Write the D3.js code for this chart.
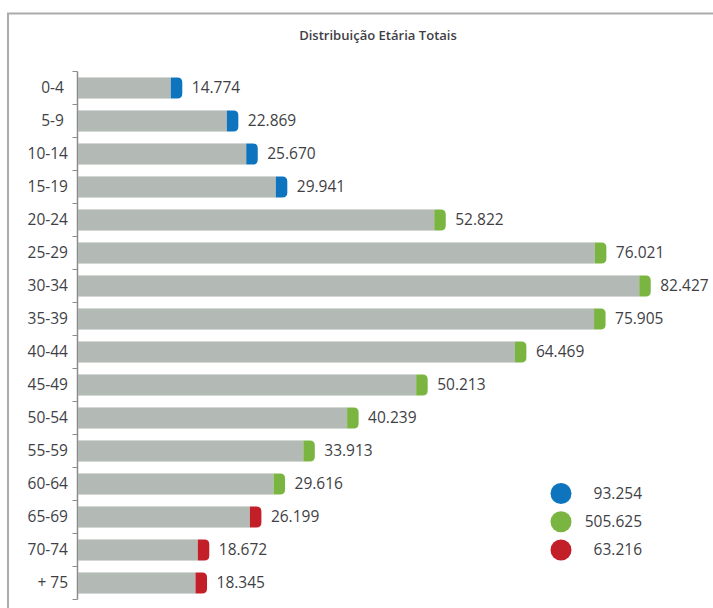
<!DOCTYPE html>
<html>
<head>
<meta charset="utf-8">
<script src="https://cdn.jsdelivr.net/npm/d3@7/dist/d3.min.js"></script>
<style>
  html, body { margin: 0; padding: 0; background: #ffffff; }
  svg { display: block; }
  text { font-family: "Open Sans", "Noto Sans", sans-serif; }
</style>
</head>
<body>
<svg id="chart" width="713" height="608"></svg>
<script>
// ---- data ----
const title = "Distribuição Etária Totais";
const categories = ["0-4 ", "5-9 ", "10-14", "15-19", "20-24", "25-29", "30-34", "35-39",
                    "40-44", "45-49", "50-54", "55-59", "60-64", "65-69", "70-74", "+ 75"];
const values = [14.774, 22.869, 25.670, 29.941, 52.822, 76.021, 82.427, 75.905,
                64.469, 50.213, 40.239, 33.913, 29.616, 26.199, 18.672, 18.345];
const groupOf = ["a", "a", "a", "a", "b", "b", "b", "b", "b", "b", "b", "b", "b", "c", "c", "c"];
const groups = ["a", "b", "c"];
const groupTotals = ["93.254", "505.625", "63.216"];
const groupColors = ["#0F74BE", "#7AB541", "#C21F28"];

const fmt = v => v.toFixed(3);

// ---- setup ----
const svg = d3.select("#chart");
const W = 713, H = 608;
const textColor = "#3f3f46";

// frame
svg.append("path")
  .attr("d", `M8,${H + 5} L8,13.5 L${W + 5},13.5`)
  .attr("fill", "none").attr("stroke", "#ababab").attr("stroke-width", 2);

// title
const t = svg.append("text")
  .attr("x", 378).attr("y", 40)
  .attr("text-anchor", "middle")
  .attr("font-weight", 600)
  .attr("font-size", 13)
  .attr("fill", textColor)
  .text(title);
const tw = t.node().getComputedTextLength();
t.attr("font-size", 13 * 158 / tw);

// scales
const y = d3.scaleBand().domain(categories).range([71.5, 599.5])
  .paddingInner(0.36).paddingOuter(0.18);
const x = d3.scaleLinear().domain([0, 90]).range([80, 80 + 6.924 * 90]);
const color = d3.scaleOrdinal().domain(groups).range(groupColors);

const axisX = 77.5;
const step = y.step();

// axis line + ticks at band boundaries
const g = svg.append("g");
g.append("line")
  .attr("x1", axisX).attr("x2", axisX)
  .attr("y1", y.range()[0]).attr("y2", y.range()[1])
  .attr("stroke", "#8c8c8c").attr("stroke-width", 1.5);
const tickYs = categories.map(c => y(c) - step * y.paddingInner() / 2)
  .concat([y.range()[1]]);
g.selectAll("line.tick").data(tickYs).enter().append("line")
  .attr("class", "tick")
  .attr("x1", axisX - 5).attr("x2", axisX)
  .attr("y1", d => d).attr("y2", d => d)
  .attr("stroke", "#8c8c8c").attr("stroke-width", 1);

// category labels
g.selectAll("text.cat").data(categories).enter().append("text")
  .attr("class", "cat")
  .attr("x", 68)
  .attr("y", d => y(d) + y.bandwidth() / 2)
  .attr("dy", "0.35em")
  .attr("text-anchor", "end")
  .attr("font-size", 15.5)
  .attr("fill", textColor)
  .style("white-space", "pre")
  .text(d => d);

// bars
const capW = 11.5, r = 5;
const rows = categories.map((c, i) => ({ c, v: values[i], grp: groupOf[i] }));
const bars = svg.append("g").selectAll("g.bar").data(rows).enter().append("g").attr("class", "bar");

bars.append("rect")
  .attr("x", axisX + 0.5)
  .attr("y", d => y(d.c))
  .attr("width", d => Math.max(0, x(d.v) - capW - (axisX + 0.5)))
  .attr("height", y.bandwidth())
  .attr("fill", "#B3B9B5");

bars.append("path")
  .attr("d", d => {
    const x0 = x(d.v) - capW, x1 = x(d.v), y0 = y(d.c), y1 = y(d.c) + y.bandwidth();
    return `M${x0},${y0} L${x1 - r},${y0} Q${x1},${y0} ${x1},${y0 + r} L${x1},${y1 - r} Q${x1},${y1} ${x1 - r},${y1} L${x0},${y1} Z`;
  })
  .attr("fill", d => color(d.grp));

bars.append("text")
  .attr("x", d => x(d.v) + 9.5)
  .attr("y", d => y(d.c) + y.bandwidth() / 2)
  .attr("dy", "0.35em")
  .attr("font-size", 15.5)
  .attr("fill", textColor)
  .text(d => fmt(d.v));

// legend
const leg = svg.append("g").selectAll("g.leg").data(groups).enter().append("g").attr("class", "leg");
const legY = d3.scalePoint().domain(groups).range([493.5, 550]);
leg.append("circle")
  .attr("cx", 561).attr("cy", d => legY(d)).attr("r", 10.5)
  .attr("fill", d => color(d));
leg.append("text")
  .attr("x", 642).attr("y", d => legY(d))
  .attr("dy", "0.35em")
  .attr("text-anchor", "end")
  .attr("font-size", 15.5)
  .attr("fill", textColor)
  .text((d, i) => groupTotals[i]);
</script>
</body>
</html>
